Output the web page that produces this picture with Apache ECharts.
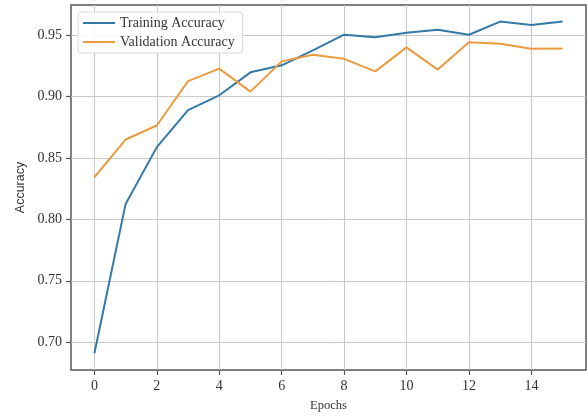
<!DOCTYPE html>
<html><head><meta charset="utf-8">
<script src="https://cdn.jsdelivr.net/npm/echarts@6/dist/echarts.min.js"></script>
<style>html,body{margin:0;padding:0;background:#fff}#c{width:588px;height:417px}</style>
</head><body><div id="c"></div>
<script>
const epochs = [0,1,2,3,4,5,6,7,8,9,10,11,12,13,14,15];
const trainingAcc = [0.691,0.8126,0.8588,0.889,0.901,0.9197,0.9254,0.9375,0.9503,0.9482,0.952,0.9544,0.9503,0.961,0.9583,0.961];
const validationAcc = [0.8343,0.865,0.8764,0.9125,0.9227,0.904,0.9286,0.934,0.9307,0.9205,0.940,0.9219,0.9441,0.943,0.9388,0.939];
const xTicks = [0,2,4,6,8,10,12,14];
const yTicks = [0.70,0.75,0.80,0.85,0.90,0.95];

const serif = 'Liberation Serif';
const chart = echarts.init(document.getElementById('c'), null, {renderer:'canvas'});
chart.setOption({
  animation:false,
  backgroundColor:'#fff',
  grid:{left:71,right:2,top:5,bottom:43,show:true,borderColor:'#555',borderWidth:1.5,backgroundColor:'transparent'},
  legend:{
    orient:'vertical',left:78,top:12,
    backgroundColor:'rgba(255,255,255,0.85)',borderColor:'#d8d8d8',borderWidth:1,borderRadius:3,
    padding:[4,8,4,5],itemGap:5,itemWidth:32,itemHeight:2,icon:'rect',
    textStyle:{fontFamily:serif,fontSize:14,color:'#333'},
    data:['Training Accuracy','Validation Accuracy']
  },
  xAxis:{
    type:'value',min:-0.75,max:15.75,
    name:'Epochs',nameLocation:'middle',nameGap:29,
    nameTextStyle:{fontFamily:serif,fontSize:12.5,color:'#333'},
    axisLine:{show:false,onZero:false},
    axisTick:{show:true,inside:false,length:5,lineStyle:{color:'#555',width:1.2},customValues:xTicks},
    axisLabel:{customValues:xTicks,fontFamily:serif,fontSize:14,color:'#333',margin:9},
    splitLine:{show:true,lineStyle:{color:'#c8c8c8',width:1}}
  },
  yAxis:{
    type:'value',min:0.6774,max:0.9745,
    name:'Accuracy',nameLocation:'middle',nameGap:43,nameRotate:90,
    nameTextStyle:{fontFamily:'Liberation Sans',fontSize:12.5,color:'#333'},
    axisLine:{show:false,onZero:false},
    axisTick:{show:true,inside:false,length:5,lineStyle:{color:'#555',width:1.2},customValues:yTicks},
    axisLabel:{customValues:yTicks,fontFamily:serif,fontSize:14,color:'#333',margin:9,formatter:v=>v.toFixed(2)},
    splitLine:{show:true,lineStyle:{color:'#c8c8c8',width:1}}
  },
  series:[
    {name:'Training Accuracy',type:'line',data:epochs.map((e,i)=>[e,trainingAcc[i]]),
     showSymbol:false,symbol:'none',lineStyle:{width:2,color:'#3479a8'},itemStyle:{color:'#3479a8'}},
    {name:'Validation Accuracy',type:'line',data:epochs.map((e,i)=>[e,validationAcc[i]]),
     showSymbol:false,symbol:'none',lineStyle:{width:2,color:'#eb9b3f'},itemStyle:{color:'#eb9b3f'}}
  ]
});
</script></body></html>
